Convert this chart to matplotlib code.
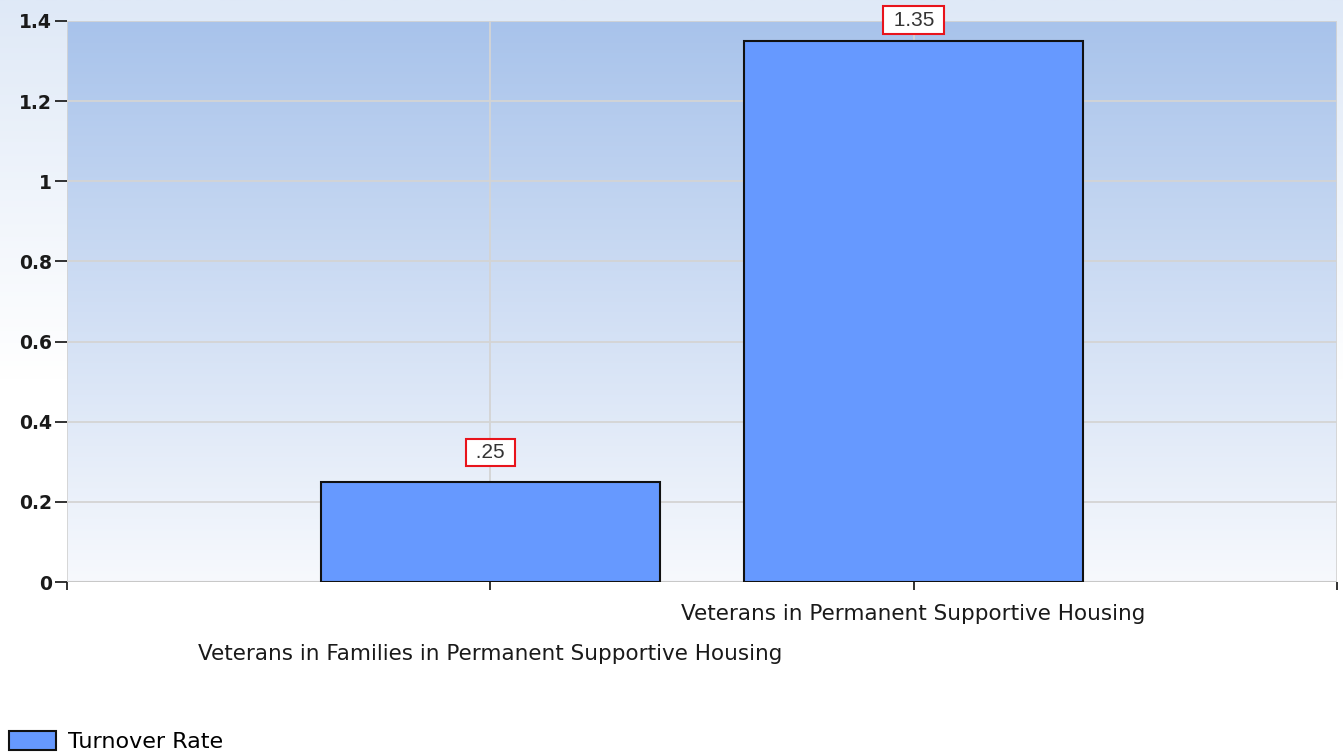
import matplotlib
matplotlib.use("Agg")
import matplotlib.pyplot as plt
import numpy as np
from matplotlib.colors import LinearSegmentedColormap
from matplotlib.patches import Patch

categories = ["Veterans in Families in Permanent Supportive Housing",
              "Veterans in Permanent Supportive Housing"]
values = [0.25, 1.35]
value_labels = [".25", "1.35"]
series_name = "Turnover Rate"
yticks = [0, 0.2, 0.4, 0.6, 0.8, 1, 1.2, 1.4]
ytick_labels = ["0", "0.2", "0.4", "0.6", "0.8", "1", "1.2", "1.4"]

W, H = 1343, 756
fig = plt.figure(figsize=(W / 100, H / 100), dpi=100)

# figure background gradient
bg = fig.add_axes([0, 0, 1, 1])
bg_cmap = LinearSegmentedColormap.from_list("bg", ["#ffffff", "#ffffff", "#dfe9f7"])
bg.imshow(np.linspace(0, 1, 256).reshape(-1, 1), aspect="auto", cmap=bg_cmap,
          extent=[0, 1, 0, 1], origin="lower")
bg.axis("off")

ax = fig.add_axes([67 / W, 1 - 582 / H, (1337 - 67) / W, (582 - 21) / H])
ax.set_xlim(0, 3)
ax.set_ylim(0, 1.4)

ax_cmap = LinearSegmentedColormap.from_list("ax", ["#f7f9fd", "#a8c3eb"])
ax.imshow(np.linspace(0, 1, 256).reshape(-1, 1), aspect="auto", cmap=ax_cmap,
          extent=[0, 3, 0, 1.4], origin="lower", zorder=0)

xpos = np.arange(1, len(categories) + 1)
ax.bar(xpos, values, width=0.8, color="#6699ff", edgecolor="#111111",
       linewidth=1.5, zorder=3)

# value labels, kept inside the figure when the bar is tall
for x, v, lab in zip(xpos, values, value_labels):
    top_px = ax.transData.transform((x, v))[1]
    off = min(29, H - 20 - top_px)
    ax.annotate(" " + lab + " ", (x, v), xytext=(0, off), textcoords="offset pixels",
                ha="center", va="center", fontsize=15, color="#333333",
                family="Liberation Sans",
                bbox=dict(boxstyle="square,pad=0.2", fc="white", ec="#e8141c", lw=1.5),
                zorder=5, annotation_clip=False)

ax.set_yticks(yticks)
ax.set_yticklabels(ytick_labels, fontsize=13.5, fontweight="bold", color="#1a1a1a")
ax.set_xticks([0, 1, 2, 3])
ax.set_xticklabels([])
ax.tick_params(axis="y", length=9, width=1.3, color="#222222", pad=2)
ax.tick_params(axis="x", length=6, width=1.3, color="#222222")

ax.grid(True, color="#d4d4d4", linewidth=1.3, zorder=1)
ax.set_axisbelow(True)
for s in ax.spines.values():
    s.set_visible(False)
ax.axhline(0, color="#c8c8c8", linewidth=1.5, zorder=2)

# staggered category labels
for i, (x, cat) in enumerate(zip(xpos, categories)):
    dy = 72 if i % 2 == 0 else 32
    ax.annotate(cat, (x, 0), xytext=(0, -dy), textcoords="offset pixels",
                ha="center", va="center", fontsize=15.5, color="#1a1a1a",
                annotation_clip=False)

handle = Patch(facecolor="#6699ff", edgecolor="#111111", linewidth=1.5)
fig.legend([handle], [series_name], loc="lower left", bbox_to_anchor=(0, -5 / H),
           frameon=False, fontsize=16, handlelength=2.1, handleheight=0.95,
           handletextpad=0.55, borderaxespad=0, borderpad=0.4)

fig.savefig("out.png", dpi=100)
